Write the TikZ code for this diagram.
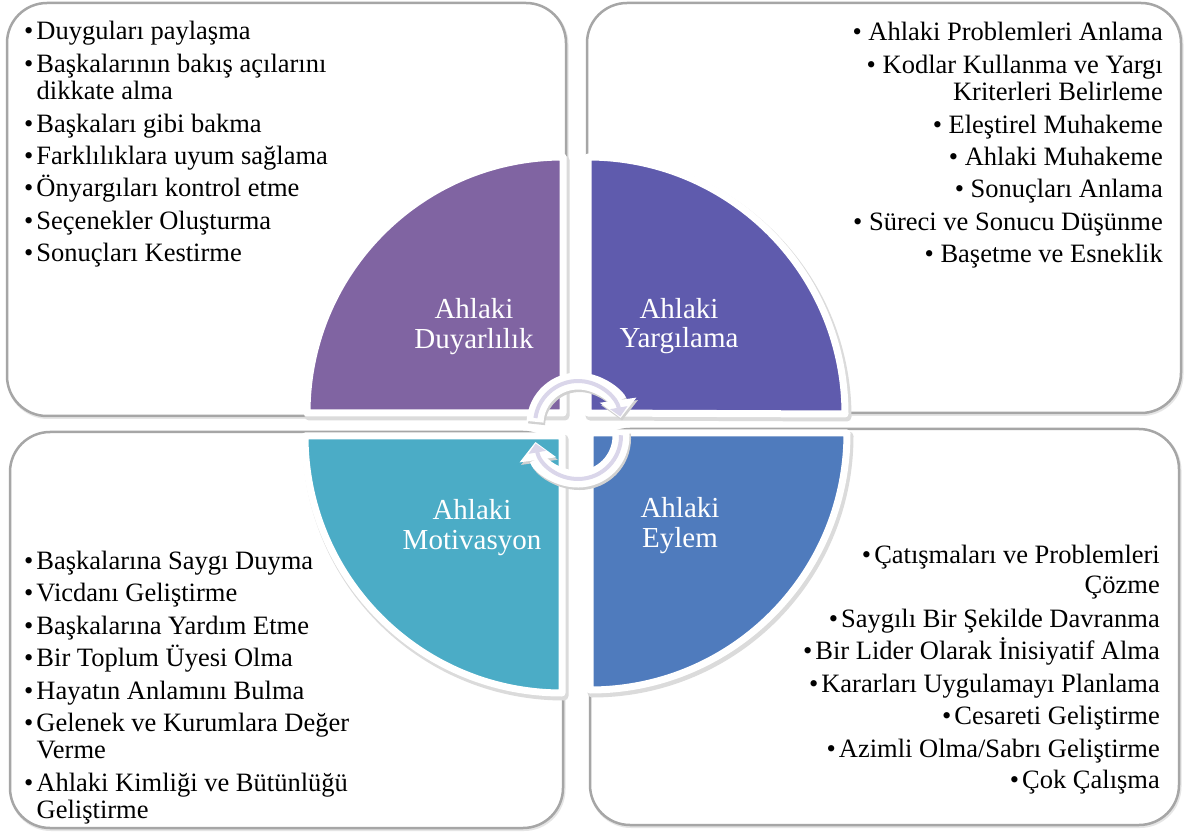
\documentclass[tikz,border=0pt]{standalone}
\usepackage{fontspec}
\setmainfont{Liberation Serif}
\usetikzlibrary{arrows.meta}
\definecolor{cDuy}{HTML}{8064A2}
\definecolor{cYar}{HTML}{5F5BAD}
\definecolor{cMot}{HTML}{4BACC6}
\definecolor{cEyl}{HTML}{4F7BBD}
\definecolor{cLav}{HTML}{DAD6EA}
\definecolor{cBox}{HTML}{A6A6A6}
\newcommand\bl{•\kern3pt}
\begin{document}
\begin{tikzpicture}[x=1pt,y=-1pt,
  boxframe/.style={draw=cBox, line width=2.5pt, rounded corners=40pt, fill=white,
    preaction={draw=black!10, line width=3pt, transform canvas={shift={(1pt,-1.5pt)}}}},
  sector/.style={fill=#1, draw=white, line width=7pt, line join=round,
    preaction={draw=black!14, fill=black!14, line width=9pt, line join=round,
      transform canvas={shift={(2pt,-3pt)}}}},
  item/.style={inner sep=0pt, font=\fontsize{26.5}{28}\selectfont, text=black},
  itemL/.style={item, anchor=base west},
  itemR/.style={item, anchor=base east},
  lbl/.style={inner sep=0pt, font=\fontsize{29}{31}\selectfont, text=white, anchor=base},
  cycwhite/.style={line width=17pt, white, -{Triangle[width=36pt,length=18pt]}},
  cycshadow/.style={line width=17pt, black!18, -{Triangle[width=36pt,length=18pt]},
    transform canvas={shift={(1.5pt,-2.5pt)}}},
  cyclav/.style={line width=4pt, cLav, -{Triangle[width=17pt,length=9pt]}},
]
\useasboundingbox (0,0) rectangle (1195,834);
\fill[white] (0,0) rectangle (1195,834);

% outer boxes
\path[boxframe] (7,3) rectangle (566,416);
\path[boxframe] (587,3) rectangle (1181,413);
\path[boxframe] (10,432) rectangle (563,828);
\path[boxframe] (590,429) rectangle (1179,825);

% sectors
\path[sector=cDuy] (563,413) -- (307,413) arc[start angle=180, end angle=270, radius=256] -- cycle;
\path[sector=cYar] (588,413) -- (588,157) arc[start angle=270, end angle=360, radius=257] -- cycle;
\path[sector=cMot] (562,436) -- (305,436) arc[start angle=180, end angle=90, radius=257] -- cycle;
\path[sector=cEyl] (590,433) -- (847,433) arc[start angle=0, end angle=90, radius=257] -- cycle;

% sector labels
\node[lbl] (d1) at (474,319) {Ahlaki};
\node[lbl] (d2) at (474,349) {Duyarlılık};
\node[lbl] (y1) at (679,319) {Ahlaki};
\node[lbl] (y2) at (679,348) {Yargılama};
\node[lbl] (m1) at (472,519) {Ahlaki};
\node[lbl] (m2) at (472,549) {Motivasyon};
\node[lbl] (e1) at (680,517) {Ahlaki};
\node[lbl] (e2) at (680,547) {Eylem};

% cycle arrows
\coordinate (cu) at (578,424);
\coordinate (cl) at (578,436);
\draw[cycshadow] (cu) ++(183:43) arc[start angle=183, end angle=352, radius=43];
\draw[cycshadow] (cl) ++(-6:43) arc[start angle=-6, end angle=172, radius=43];
\draw[cycwhite] (cu) ++(183:43) arc[start angle=183, end angle=352, radius=43];
\draw[cycwhite] (cl) ++(-6:43) arc[start angle=-6, end angle=172, radius=43];
\draw[cyclav] (cu) ++(188:43) arc[start angle=188, end angle=350, radius=43];
\draw[cyclav] (cl) ++(-1:43) arc[start angle=-1, end angle=170, radius=43];

% top-left list
\node[itemL] (tl1) at (24,39.5) {\bl Duyguları paylaşma};
\node[itemL] (tl2) at (24,72.5) {\bl Başkalarının bakış açılarını};
\node[itemL] (tl3) at (36.5,99.3) {dikkate alma};
\node[itemL] (tl4) at (24,132.7) {\bl Başkaları gibi bakma};
\node[itemL] (tl5) at (24,165) {\bl Farklılıklara uyum sağlama};
\node[itemL] (tl6) at (24,197) {\bl Önyargıları kontrol etme};
\node[itemL] (tl7) at (24,230) {\bl Seçenekler Oluşturma};
\node[itemL] (tl8) at (24,262) {\bl Sonuçları Kestirme};

% top-right list
\node[itemR] (tr1) at (1163,40.5) {• Ahlaki Problemleri Anlama};
\node[itemR] (tr2) at (1163,73.5) {• Kodlar Kullanma ve Yargı};
\node[itemR] (tr3) at (1163,100.5) {Kriterleri Belirleme};
\node[itemR] (tr4) at (1163,133.5) {• Eleştirel Muhakeme};
\node[itemR] (tr5) at (1163,165.5) {• Ahlaki Muhakeme};
\node[itemR] (tr6) at (1163,198) {• Sonuçları Anlama};
\node[itemR] (tr7) at (1163,231) {• Süreci ve Sonucu Düşünme};
\node[itemR] (tr8) at (1163,263) {• Başetme ve Esneklik};

% bottom-left list
\node[itemL] (bl1) at (24,569) {\bl Başkalarına Saygı Duyma};
\node[itemL] (bl2) at (24,601.5) {\bl Vicdanı Geliştirme};
\node[itemL] (bl3) at (24,634) {\bl Başkalarına Yardım Etme};
\node[itemL] (bl4) at (24,666.5) {\bl Bir Toplum Üyesi Olma};
\node[itemL] (bl5) at (24,699) {\bl Hayatın Anlamını Bulma};
\node[itemL] (bl6) at (24,731.5) {\bl Gelenek ve Kurumlara Değer};
\node[itemL] (bl7) at (36.5,758.5) {Verme};
\node[itemL] (bl8) at (24,791.5) {\bl Ahlaki Kimliği ve Bütünlüğü};
\node[itemL] (bl9) at (36.5,818) {Geliştirme};

% bottom-right list
\node[itemR] (br1) at (1160,563) {\bl Çatışmaları ve Problemleri};
\node[itemR] (br2) at (1160,593) {Çözme};
\node[itemR] (br3) at (1160,627) {\bl Saygılı Bir Şekilde Davranma};
\node[itemR] (br4) at (1160,659) {\bl Bir Lider Olarak İnisiyatif Alma};
\node[itemR] (br5) at (1160,692) {\bl Kararları Uygulamayı Planlama};
\node[itemR] (br6) at (1160,724) {\bl Cesareti Geliştirme};
\node[itemR] (br7) at (1160,757) {\bl Azimli Olma/Sabrı Geliştirme};
\node[itemR] (br8) at (1160,788) {\bl Çok Çalışma};
\end{tikzpicture}
\end{document}
